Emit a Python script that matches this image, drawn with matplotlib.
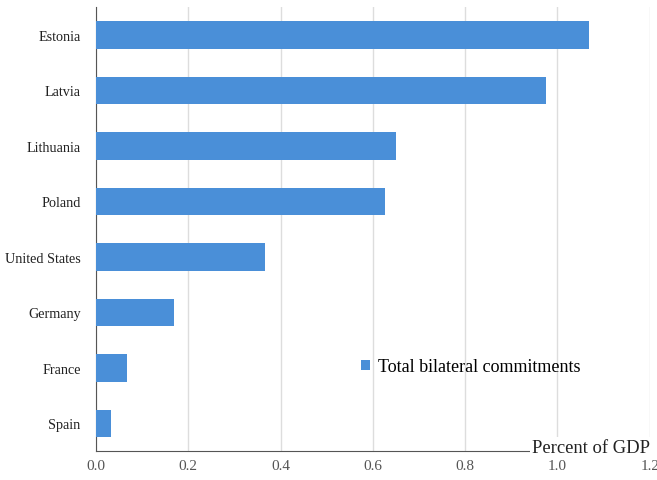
import numpy as np
import matplotlib.pyplot as plt

countries = ["Estonia", "Latvia", "Lithuania", "Poland", "United States",
             "Germany", "France", "Spain"]
commitments = [1.068, 0.975, 0.65, 0.626, 0.366, 0.169, 0.067, 0.032]
xticks = [0.0, 0.2, 0.4, 0.6, 0.8, 1.0, 1.2]

plt.rcParams['font.family'] = ['Liberation Serif', 'DejaVu Serif']

fig = plt.figure(figsize=(6.57, 4.81), dpi=100)
ax = fig.add_axes([0.146, 0.06, 0.843, 0.923])

ypos = np.arange(len(countries))[::-1]
ax.barh(ypos, commitments, height=0.5, color="#4a8fd8",
        label="Total bilateral commitments", zorder=3)

ax.set_xlim(0, 1.2)
ax.set_ylim(-0.5, 7.5)
ax.set_xticks(xticks)
ax.set_xticklabels([f"{t:.1f}" for t in xticks], fontsize=11, color="#555555")
ax.set_yticks(ypos)
ax.set_yticklabels(countries, fontsize=10.2, color="#222222")
ax.tick_params(axis='both', length=0)
ax.tick_params(axis='y', pad=11)
ax.tick_params(axis='x', pad=6)

ax.grid(axis='x', color="#dddddd", linewidth=1, zorder=0)
for s in ['top', 'right']:
    ax.spines[s].set_visible(False)
ax.spines['left'].set_color("#555555")
ax.spines['bottom'].set_color("#555555")

ax.text(1.0, 0.008, "Percent of GDP", transform=ax.transAxes, ha='right',
        va='center', fontsize=13.4, color="#222222",
        bbox=dict(facecolor='white', edgecolor='none', pad=1.5), zorder=5)

ax.legend(loc='center left', bbox_to_anchor=(0.45, 0.19), frameon=False,
          fontsize=13, handlelength=0.5, handleheight=0.5, handletextpad=0.4)

fig.savefig("out.png", dpi=100)
